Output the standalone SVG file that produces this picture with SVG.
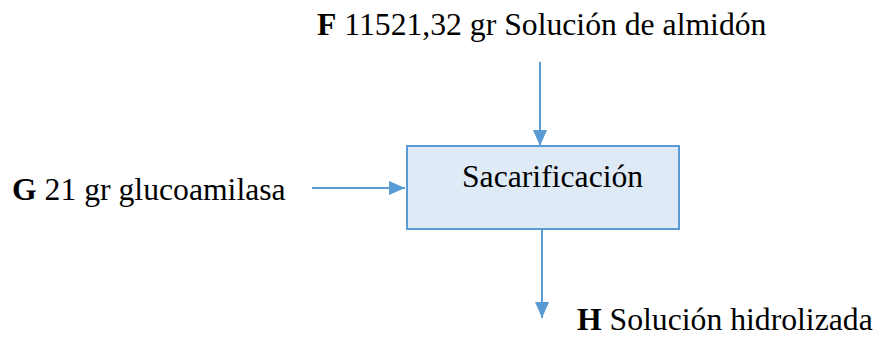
<svg xmlns="http://www.w3.org/2000/svg" width="878" height="337" viewBox="0 0 878 337">
<style>
text{font-family:"Liberation Serif","Times New Roman",serif;font-size:31.7px;fill:#000}
.b{font-weight:bold}
.c{stroke:#5B9BD5;stroke-width:2;fill:none}
</style>
<defs>
<marker id="ah" markerUnits="userSpaceOnUse" markerWidth="16" markerHeight="16" viewBox="0 0 16 16" refX="16" refY="8" orient="auto">
<path d="M0,1 L16,8 L0,15 Z" fill="#5B9BD5"/>
</marker>
</defs>
<rect width="878" height="337" fill="#fff"/>
<g id="connectors">
<line class="c" x1="540" y1="62" x2="540" y2="146" marker-end="url(#ah)"/>
<line class="c" x1="312" y1="188" x2="405" y2="188" marker-end="url(#ah)"/>
<line class="c" x1="542" y1="229" x2="542" y2="318" marker-end="url(#ah)"/>
</g>
<g id="node-sacarificacion">
<rect x="407" y="146" width="272" height="83" fill="#DEEAF6" stroke="#5B9BD5" stroke-width="2"/>
<text x="462" y="187">Sacarificación</text>
</g>
<g id="label-F">
<text x="317" y="35"><tspan class="b">F</tspan> 11521,32 gr Solución de almidón</text>
</g>
<g id="label-G">
<text x="12" y="200"><tspan class="b">G</tspan> 21 gr glucoamilasa</text>
</g>
<g id="label-H">
<text x="577" y="330"><tspan class="b">H</tspan> Solución hidrolizada</text>
</g>
</svg>
